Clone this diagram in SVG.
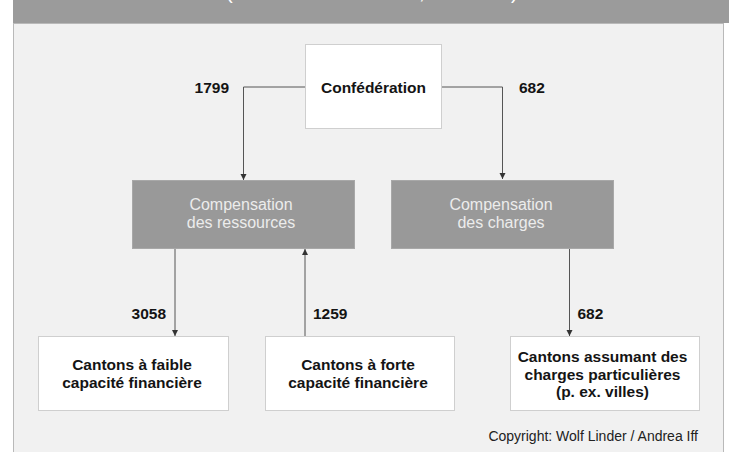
<svg xmlns="http://www.w3.org/2000/svg" width="729" height="452" viewBox="0 0 729 452">
<defs>
<style>
.panel{fill:#f1f1f1;stroke:#b9b9b9;stroke-width:1}
.hdr{fill:#9b9b9b}
.white{fill:#ffffff;stroke:#cfcfcf;stroke-width:1}
.grey{fill:#999999;stroke:#a8a8a8;stroke-width:1}
.b{font-family:"Liberation Sans",Arial,sans-serif;font-weight:bold;font-size:15.5px;fill:#141414}
.g{font-family:"Liberation Sans",Arial,sans-serif;font-size:16px;fill:#ececec;text-anchor:middle}
.c{text-anchor:middle}
.conn{fill:none;stroke:#555555;stroke-width:1}
.frag{font-family:"Liberation Sans",Arial,sans-serif;font-size:20px;fill:#ffffff}
.copy{font-family:"Liberation Sans",Arial,sans-serif;font-size:14px;fill:#222222;text-anchor:end}
</style>
<marker id="arr" viewBox="0 0 6 8" refX="6" refY="4" markerWidth="6" markerHeight="8" markerUnits="userSpaceOnUse" orient="auto">
<path d="M0,1 L6,4 L0,7 Z" fill="#333333"/>
</marker>
</defs>
<rect x="0" y="0" width="729" height="452" fill="#ffffff"/>
<rect class="panel" x="13.5" y="23.5" width="710" height="440"/>
<rect class="hdr" x="13" y="0" width="716" height="23"/>
<g id="title-fragment">
<text class="frag" x="226" y="-1">(</text>
<text class="frag" x="419" y="-1">,</text>
<text class="frag" x="511" y="-1">)</text>
</g>
<g id="connectors">
<polyline class="conn" points="305,87 243.5,87 243.5,180" marker-end="url(#arr)"/>
<polyline class="conn" points="442,87 502.5,87 502.5,179" marker-end="url(#arr)"/>
<line class="conn" x1="175" y1="249" x2="175" y2="336" marker-end="url(#arr)"/>
<line class="conn" x1="305" y1="336" x2="305" y2="249" marker-end="url(#arr)"/>
<line class="conn" x1="569.5" y1="249" x2="569.5" y2="336" marker-end="url(#arr)"/>
<text class="b" x="229" y="92.5" text-anchor="end">1799</text>
<text class="b" x="519" y="92.5">682</text>
<text class="b" x="166" y="318.5" text-anchor="end">3058</text>
<text class="b" x="313" y="318.5">1259</text>
<text class="b" x="577.5" y="318.5">682</text>
</g>
<g id="confederation">
<rect class="white" x="305.5" y="44.5" width="136" height="84"/>
<text class="b c" x="373.5" y="92.5">Confédération</text>
</g>
<g id="comp-ressources">
<rect class="grey" x="132.5" y="180.5" width="222" height="68"/>
<text class="g" x="241" y="209.5">Compensation</text>
<text class="g" x="241" y="227.5">des ressources</text>
</g>
<g id="comp-charges">
<rect class="grey" x="391.5" y="180.5" width="222" height="68"/>
<text class="g" x="501" y="209.5">Compensation</text>
<text class="g" x="501" y="227.5">des charges</text>
</g>
<g id="cantons-faible">
<rect class="white" x="38.5" y="336.5" width="190" height="74"/>
<text class="b c" x="132" y="370">Cantons à faible</text>
<text class="b c" x="132" y="388">capacité financière</text>
</g>
<g id="cantons-forte">
<rect class="white" x="265.5" y="336.5" width="189" height="74"/>
<text class="b c" x="358" y="370">Cantons à forte</text>
<text class="b c" x="358" y="388">capacité financière</text>
</g>
<g id="cantons-charges">
<rect class="white" x="510.5" y="336.5" width="189" height="74"/>
<text class="b c" x="602.5" y="362">Cantons assumant des</text>
<text class="b c" x="602.5" y="379.5">charges particulières</text>
<text class="b c" x="602.5" y="397">(p. ex. villes)</text>
</g>
<text class="copy" x="698" y="441">Copyright: Wolf Linder / Andrea Iff</text>
</svg>
